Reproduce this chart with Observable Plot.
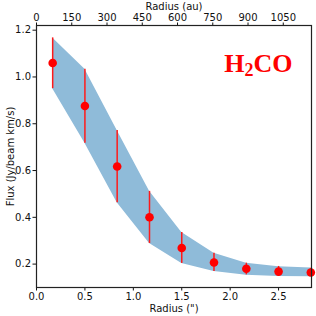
<!DOCTYPE html>
<html><head><meta charset="utf-8">
<script src="https://cdn.jsdelivr.net/npm/d3@7"></script>
<script src="https://cdn.jsdelivr.net/npm/@observablehq/plot@0.6"></script>
<style>body{margin:0;background:#fff}</style>
</head><body><div id="chart"></div>
<script>
const radius = [0.167, 0.5, 0.833, 1.167, 1.5, 1.833, 2.167, 2.5, 2.833];
const flux = [1.06, 0.876, 0.617, 0.40, 0.269, 0.207, 0.180, 0.168, 0.164];
const errLo = [0.95, 0.717, 0.462, 0.288, 0.203, 0.168, 0.154, 0.148, 0.148];
const errHi = [1.167, 1.033, 0.771, 0.511, 0.335, 0.246, 0.204, 0.190, 0.182];
const bandLo = [0.95, 0.717, 0.462, 0.288, 0.203, 0.168, 0.152, 0.147, 0.146];
const bandHi = [1.167, 1.033, 0.771, 0.511, 0.335, 0.246, 0.204, 0.189, 0.183];
const xTicks = [0, 0.5, 1.0, 1.5, 2.0, 2.5];
const yTicks = [0.2, 0.4, 0.6, 0.8, 1.0, 1.2];
const auTicks = [0, 150, 300, 450, 600, 750, 900, 1050];
const auPerArcsec = 412;
const species = "H2CO";

const data = radius.map((r, i) => ({r, f: flux[i], lo: errLo[i], hi: errHi[i], blo: bandLo[i], bhi: bandHi[i]}));

const chart = Plot.plot({
  width: 316, height: 316,
  marginLeft: 36, marginRight: 5, marginTop: 25, marginBottom: 29,
  style: {fontFamily: "DejaVu Sans", fontSize: "10px", color: "#111", background: "#fff"},
  x: {domain: [0, 2.84]},
  y: {domain: [0.1, 1.22]},
  marks: [
    Plot.areaY(data, {x: "r", y1: "blo", y2: "bhi", fill: "#8fbbd9", fillOpacity: 1}),
    Plot.ruleX(data, {x: "r", y1: "lo", y2: "hi", stroke: "#ff1a1a", strokeWidth: 1.5}),
    Plot.dot(data, {x: "r", y: "f", r: 4.3, fill: "#ff0000", stroke: "none"}),
    Plot.axisY({ticks: yTicks, tickFormat: d3.format(".1f"), tickSize: 3.5, tickPadding: 2,
      label: "Flux (Jy/beam km/s)", labelAnchor: "center", labelArrow: "none", labelOffset: 30}),
    Plot.axisX({ticks: xTicks, tickFormat: d3.format(".1f"), tickSize: 3.5, tickPadding: 2,
      label: 'Radius (")', labelAnchor: "center", labelArrow: "none", labelOffset: 24}),
    Plot.axisX({anchor: "top", ticks: auTicks.map(a => a / auPerArcsec), tickFormat: d => String(Math.round(d * auPerArcsec)),
      tickSize: 3.5, tickPadding: 1, label: "Radius (au)", labelAnchor: "center", labelArrow: "none", labelOffset: 23}),
    Plot.frame({stroke: "#222", strokeWidth: 1.2}),
    Plot.text([species], {frameAnchor: "top-right", dx: -19, dy: 46, lineAnchor: "bottom", textAnchor: "end",
      fill: "#ff0000", fontSize: 26, fontWeight: "bold", fontFamily: "Liberation Serif", className: "species"})
  ]
});
document.getElementById("chart").appendChild(chart);
// render the subscript as tspans
const t = chart.querySelector(".species text");
if (t) {
  t.textContent = "";
  const ns = "http://www.w3.org/2000/svg";
  const a = document.createElementNS(ns, "tspan"); a.textContent = species.slice(0, 1);
  const b = document.createElementNS(ns, "tspan"); b.textContent = species.slice(1, 2);
  b.setAttribute("dy", "4"); b.setAttribute("font-size", "18");
  const c = document.createElementNS(ns, "tspan"); c.textContent = species.slice(2);
  c.setAttribute("dy", "-4");
  t.append(a, b, c);
}
</script></body></html>
